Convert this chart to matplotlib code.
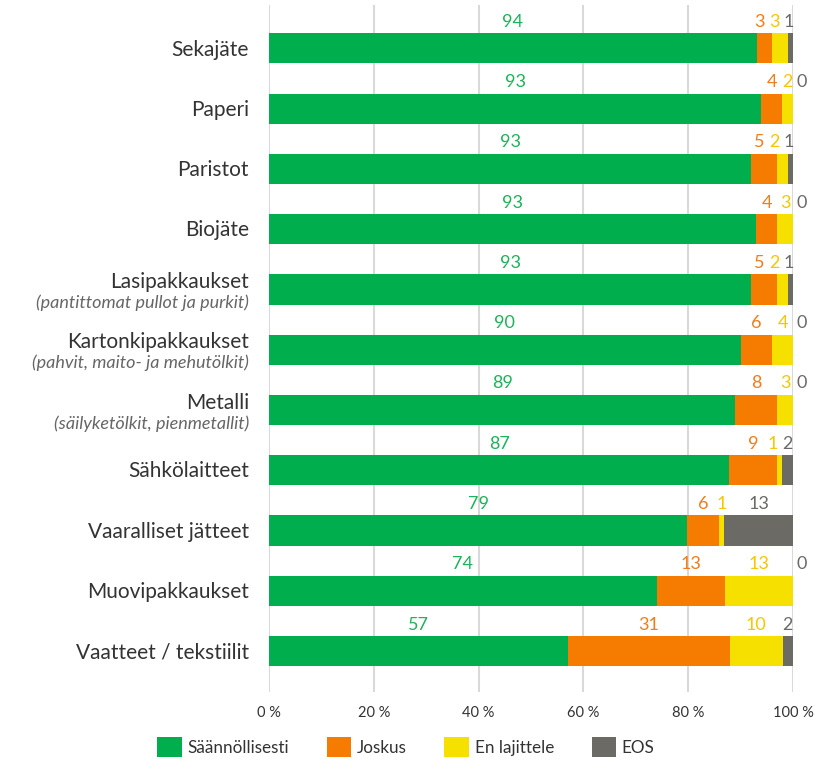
import matplotlib.pyplot as plt
from matplotlib.patches import Patch

# data
categories = ["Sekajäte", "Paperi", "Paristot", "Biojäte", "Lasipakkaukset",
              "Kartonkipakkaukset", "Metalli", "Sähkölaitteet",
              "Vaaralliset jätteet", "Muovipakkaukset", "Vaatteet / tekstiilit"]
subtitles = ["", "", "", "", "(pantittomat pullot ja purkit)",
             "(pahvit, maito- ja mehutölkit)", "(säilyketölkit, pienmetallit)",
             "", "", "", ""]
saannollisesti = [94, 93, 93, 93, 93, 90, 89, 87, 79, 74, 57]
joskus = [3, 4, 5, 4, 5, 6, 8, 9, 6, 13, 31]
en_lajittele = [3, 2, 2, 3, 2, 4, 3, 1, 1, 13, 10]
eos = [1, 0, 1, 0, 1, 0, 0, 2, 13, 0, 2]
series_names = ["Säännöllisesti", "Joskus", "En lajittele", "EOS"]
xticks = [0, 20, 40, 60, 80, 100]

bar_colors = ["#00ae4d", "#f57c00", "#f6e000", "#6b6a65"]
text_colors = ["#1db35a", "#f07c1a", "#f7c600", "#6b6a66"]

plt.rcParams['font.family'] = ['Lato', 'DejaVu Sans']

fig = plt.figure(figsize=(8.21, 7.65), dpi=100)
W, H = 821, 765
ax = fig.add_axes([269 / W, (H - 692) / H, (793 - 269) / W, (692 - 5) / H])

series = [saannollisesti, joskus, en_lajittele, eos]
n = len(categories)
rows = list(range(n))
totals = [sum(s[i] for s in series) for i in rows]

left = [0.0] * n
bounds = []
for vals, col in zip(series, bar_colors):
    share = [vals[i] / totals[i] * 100 for i in rows]
    ax.barh(rows, share, left=left, height=0.5, color=col, zorder=2)
    bounds.append((list(left), share))
    left = [left[i] + share[i] for i in rows]

# arvot palkkien yläpuolelle, pienet arvot siirretään ettei mene päällekkäin
gap = 2.8
for i in rows:
    centers = [bounds[k][0][i] + bounds[k][1][i] / 2 for k in range(4)]
    pos = [None] * 4
    prev = 99.2 + gap
    for k in range(3, -1, -1):
        v = series[k][i]
        if v == 0:
            pos[k] = 101.7
            continue
        p = min(centers[k], prev - gap)
        pos[k] = p
        prev = p
    for k in range(4):
        ax.text(pos[k], i - 0.44, str(series[k][i]), ha='center', va='center',
                fontsize=13, color=text_colors[k], clip_on=False)

# kategoriat
for i, (cat, sub) in enumerate(zip(categories, subtitles)):
    if sub:
        ax.text(-3.8, i - 0.12, cat, ha='right', va='center', fontsize=15, color='#333333')
        ax.text(-3.8, i + 0.22, sub, ha='right', va='center', fontsize=13,
                style='italic', color='#666666')
    else:
        ax.text(-3.8, i + 0.02, cat, ha='right', va='center', fontsize=15, color='#333333')

ax.set_xlim(0, 100)
ax.set_ylim(n - 1 + 0.68, -0.72)
ax.set_yticks([])
ax.set_xticks(xticks)
ax.set_xticklabels([f"{t} %" for t in xticks], fontsize=10.5, color='#333333')
ax.tick_params(axis='x', length=0, pad=10)
ax.xaxis.grid(True, color='#d9d9d9', lw=1.5)
ax.set_axisbelow(True)
for sp in ax.spines.values():
    sp.set_visible(False)

handles = [Patch(facecolor=c, edgecolor='none', label=l) for c, l in zip(bar_colors, series_names)]
fig.legend(handles=handles, loc='center', bbox_to_anchor=(406 / W, 1 - 747 / H), ncol=4,
           frameon=False, fontsize=12.3, handlelength=1.42, handleheight=1.42,
           handletextpad=0.35, columnspacing=2.2, labelcolor='#333333')

fig.savefig("out.png", dpi=100)
